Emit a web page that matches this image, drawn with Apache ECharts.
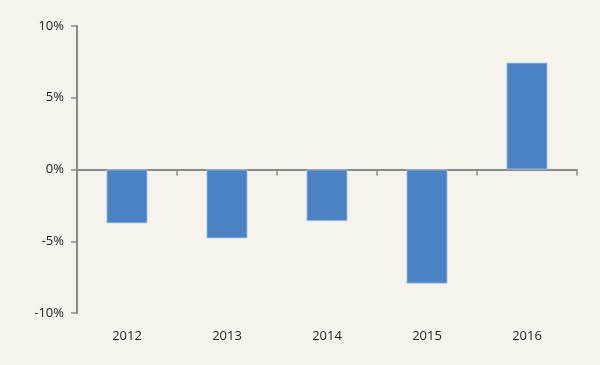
<!DOCTYPE html>
<html>
<head>
<meta charset="utf-8">
<script src="https://cdn.jsdelivr.net/npm/echarts@6/dist/echarts.min.js"></script>
<style>
html,body{margin:0;padding:0;background:#f5f3ec;}
#chart{width:600px;height:365px;}
</style>
</head>
<body>
<div id="chart"></div>
<script>
const categories = ['2012', '2013', '2014', '2015', '2016'];
const values = [-3.75, -4.8, -3.6, -7.95, 7.45];
const yTicks = [-10, -5, 0, 5, 10];

const chart = echarts.init(document.getElementById('chart'));
chart.setOption({
  backgroundColor: '#f5f3ec',
  animation: false,
  grid: { left: 77, right: 23, top: 26, bottom: 52, containLabel: false },
  xAxis: {
    type: 'category',
    data: categories,
    axisLine: { onZero: true, lineStyle: { color: '#8a8a8a', width: 2 } },
    axisTick: { show: true, length: 6, lineStyle: { color: '#8a8a8a', width: 1.5 } },
    axisLabel: {
      show: true, color: '#1e1e1e', fontSize: 13, fontFamily: 'Open Sans',
      margin: 17,
      formatter: v => v
    },
    position: 'bottom'
  },
  yAxis: {
    type: 'value',
    min: yTicks[0], max: yTicks[yTicks.length - 1], interval: 5,
    axisLine: { show: true, lineStyle: { color: '#8a8a8a', width: 2 } },
    axisTick: { show: true, length: 6, lineStyle: { color: '#8a8a8a', width: 1.5 } },
    splitLine: { show: false },
    axisLabel: { color: '#1e1e1e', fontSize: 13, fontFamily: 'Open Sans', margin: 13, formatter: v => v + '%' }
  },
  series: [{
    type: 'bar',
    data: values,
    barWidth: '41%',
    itemStyle: { color: '#4a82c3', borderColor: '#b8cde6', borderWidth: 0.8 }
  }]
});
</script>
</body>
</html>
